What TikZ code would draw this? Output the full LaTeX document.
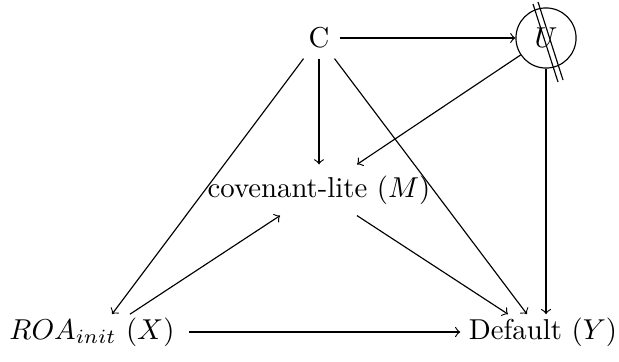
\documentclass[tikz,border=0pt]{standalone}
\begin{document}
\begin{tikzpicture}[x=0.3477pt,y=-0.3477pt,>=to,
  edge/.style={->,line width=0.4pt}]
\useasboundingbox (0,0) rectangle (619,361);
\node[inner sep=3.33pt] (C) at (319,38) {C};
\node[circle,draw,minimum size=20.9pt,inner sep=0pt] (U) at (546,38) {$U$};
\node[inner sep=3.7pt] (M) at (319,190) {covenant-lite ($M$)};
\node[inner xsep=4.9pt,inner ysep=1pt] (X) at (92,332) {$ROA_{init}$ ($X$)};
\node[inner xsep=2.8pt,inner ysep=1pt] (Y) at (543,332) {Default ($Y$)};
% double stroke through U
\draw (533,4) -- (558,82);
\draw (538,2) -- (563,80);
% edges
\draw[edge] (C) -- (U);
\draw[edge] (C) -- (M);
\draw[edge] (C) -- ([shift={(20,0)}]X.north);
\draw[edge] (C) -- ([shift={(-16,0)}]Y.north);
\draw[edge] (U) -- ([shift={(38,0)}]M.north);
\draw[edge] (U.south) -- (U.south |- Y.north);
\draw[edge] ([shift={(38,0)}]X.north) -- (M);
\draw[edge] ([shift={(38,0)}]M.south) -- ([shift={(-35,0)}]Y.north);
\draw[edge] (X) -- (Y);
\end{tikzpicture}
\end{document}
